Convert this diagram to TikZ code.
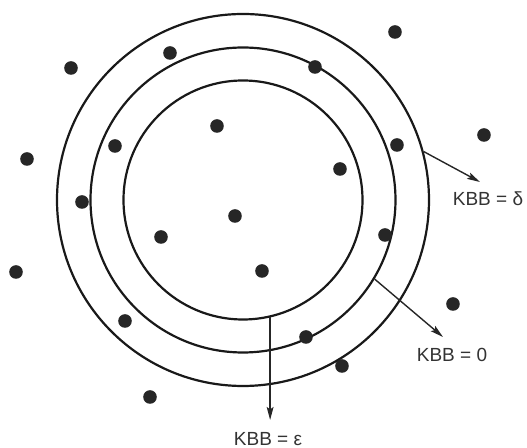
\documentclass[tikz,border=0pt]{standalone}
\usepackage{fontspec}
\setmainfont{Liberation Sans}
\usepackage{tikz}
\usetikzlibrary{arrows.meta,calc}

\begin{document}
\begin{tikzpicture}[
  x=0.5pt, y=-0.5pt,
  font=\fontsize{9.5}{11}\selectfont,
  >={Stealth[length=6.5pt,width=3.4pt,inset=1.2pt]},
  % Styles
  ring/.style={draw=black!90,circle,line width=1.1pt,inner sep=0pt},
  dot/.style={circle,fill=black!85,inner sep=0pt,minimum size=6.8pt},
  kbb/.style={inner sep=0pt,text=black!80},
  arrowstyle/.style={->,line width=0.7pt,draw=black!85},
  ]
\useasboundingbox (0,0) rectangle (527,448);

%--- Rings around the centre ----------------------------------------
\coordinate (c) at (243,200);
\node[ring, minimum size=186pt]   (outer)  at (c) {};
\node[ring, minimum size=152.5pt] (middle) at (c) {};
\node[ring, minimum size=119.5pt] (inner)  at (c) {};

%--- Points ----------------------------------------------------------
\node[dot] (p1)  at (395,32)  {};
\node[dot] (p2)  at (170,53)  {};
\node[dot] (p3)  at (71,68)   {};
\node[dot] (p4)  at (315,67)  {};
\node[dot] (p5)  at (217,126) {};
\node[dot] (p6)  at (484,135) {};
\node[dot] (p7)  at (115,146) {};
\node[dot] (p8)  at (397,145) {};
\node[dot] (p9)  at (27,159)  {};
\node[dot] (p10) at (340,169) {};
\node[dot] (p11) at (82,202)  {};
\node[dot] (p12) at (235,216) {};
\node[dot] (p13) at (161,237) {};
\node[dot] (p14) at (385,235) {};
\node[dot] (p15) at (16,272)  {};
\node[dot] (p16) at (262,271) {};
\node[dot] (p17) at (453,304) {};
\node[dot] (p18) at (125,321) {};
\node[dot] (p19) at (306,337) {};
\node[dot] (p20) at (342,366) {};
\node[dot] (p21) at (150,397) {};

%--- Labels ----------------------------------------------------------
\node[kbb] (kbbd) at (488,199) {KBB = δ};
\node[kbb] (kbbz) at (452,355) {KBB = 0};
\node[kbb] (kbbe) at (268,439) {KBB = ε};

% Arrow tips just above each label
\coordinate (tipd) at (480,182);
\coordinate (tipz) at (443,337);
\coordinate (tipe) at (269,420);

%--- Arrows from the rings -------------------------------------------
\draw[arrowstyle] (outer.15.5) -- (tipd);
\draw[arrowstyle] (middle.-31) -- (tipz);
\draw[arrowstyle] (inner.-77) -- (inner.-77 |- tipe);

\end{tikzpicture}
\end{document}
